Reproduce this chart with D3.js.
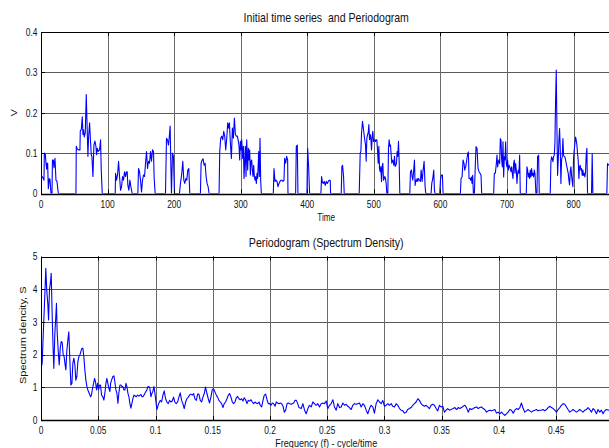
<!DOCTYPE html>
<html><head><meta charset="utf-8">
<script src="https://cdn.jsdelivr.net/npm/d3@7"></script>
<style>html,body{margin:0;padding:0;background:#fff}svg{display:block}text{font-family:"Liberation Sans",Arial,sans-serif;fill:#111;white-space:pre}</style>
</head><body>
<script>
// ---------- DATA ----------
const timeSteps = [0,2.5,4.5,5,6.5,7.5,8.5,9,10,11,12.5,13.5,15,16.5,17.2,18.5,19.5,21,22.5,24,26,
52.5,53,54.5,57,58.5,59,60.5,62,63,64,65,66.5,68,69,70.5,71.5,73,74.5,75.5,76.5,78,79.5,81,82.5,83.5,84.5,86,88,89.5,90.5,92,
111.5,112,113.5,115,116.5,118,119.5,121,122.5,124,125.5,127,128.5,129.5,130.5,132,133.5,135,137,
145.5,146.5,148,149.5,151,152.5,154,155.5,157,158.5,160,161.5,163,164.5,166,167.5,169,170,171.5,
187,188.5,190,191.5,192.5,194,195,196,197.5,199,200.5,
208,209.5,211.5,213,214.5,216,217.5,219,220.5,222,223.5,
239.5,240.5,242,243.5,245,246.5,248,249.5,251,252.5,
267.5,268.5,270,271.5,273,274.5,276,277.5,279,280.5,282,283,284.5,286,287.5,289,290.5,292,293.5,295,296.5,297.5,298.5,299.5,300.5,301.5,303,304,305,306,307,308,309,310.5,311.5,312.5,313.5,314.5,315.5,316.5,317.5,318.5,319.5,320.5,321.5,322.5,323.5,324.5,325.5,327,328,329,330,331,
349,350,351.5,353,354.5,356,357.5,359,360.5,362,363.5,365,366,367.5,369,370.5,371,
382.5,383.5,385,386,399.5,400.5,402,403.5,
420.5,421.5,422.5,424,425.5,427,428.5,430,431.5,433,434.5,435,
451,452,453,454.5,455.5,
478,479.5,480.5,481.5,483,484.5,486,487.5,488.5,489.5,490.5,491.5,492.5,493.5,494.5,495.5,496.5,497.5,498.5,499.5,500.5,501.5,502.5,503.5,504.5,505.5,506.5,507.5,508.5,509.5,510.5,511.5,512.5,513.5,514.5,515.5,516.5,517.5,518.5,519.5,
521,522,523,524,525,526,527,528,529,530,531,532,533,534,535,536,537,538,539,
554,555,556.5,557.5,558.5,559.5,561,562,563,564,565,566,567,568.5,570,571,572.5,574,575.5,577,578,
586,587,588.5,590,591,592,599,600,601.5,603,604,
630,631,632.5,634,635.5,636.5,638,639.5,641,642,643,644.5,645.5,646.5,647.5,648.5,649.5,
651,652.5,653.5,655,656.5,658,659.5,661,662,
680,681,682.5,684,685,686,687,688,689,690,691,692,693,694,695,696,697,698,699,700,701,702,703,704,705,706,707,708,709,710,711,712,713,714,715,716,717,718,719,720,
729,730,731,732,733,734,735,736,737,738,739,740,741,742,743.5,745,746,747.5,748.5,
765,766,767,768,769,770,771,772,773,774,775,776,777,778,779,780,781,782,783,784,785,786,787,788,789,790,791,792,793,794,795,796,797,798,799,800,801,802,803,804,805,806,807,808,809,810,811,812,813,814,815,816,817,818,819,820,821,
827,828,829,850,851,853,856];
const voltage = [.045,.04,.033,.1,.097,.075,.06,.075,.075,.012,.037,.035,0,0,.083,.083,.064,.087,.033,.03,0,
0,.117,.11,.108,.108,.155,.158,.19,.146,.158,.14,.15,.245,.183,.092,.14,.175,.125,.096,.092,.042,.12,.13,.117,.096,.112,.104,.108,.133,.058,0,
0,.05,.033,.046,.08,.042,.008,.017,.042,.033,.054,.042,.054,.054,.02,.008,.033,.017,0,
0,.062,.054,.033,.004,.033,.046,.042,.075,.104,.062,.08,.075,.104,.08,.108,.104,.037,0,
0,.137,.133,.12,.137,.167,.075,0,.1,.092,0,
0,.025,.05,.08,.033,.025,.037,.033,.058,.062,0,
0,.075,.083,.086,.07,.075,.042,.025,.017,0,
0,.104,.137,.142,.133,.154,.142,.108,.137,.175,.162,.175,.125,.087,.162,.137,.187,.146,.142,.142,.129,.117,.083,.129,.108,.133,.087,.117,.037,.08,.117,.042,.133,.058,.112,.083,.108,.046,.08,.083,.058,.042,.07,.042,.033,.042,.025,.05,.037,.104,.042,.137,.033,0,
0,.062,.03,.033,.03,.017,.025,.03,.033,.033,.03,.033,.087,.075,.092,.083,0,
0,.117,.12,0,0,.112,.067,0,
0,.042,.03,.025,.03,.02,.03,.025,.03,.033,.033,0,
0,.067,.07,.042,0,
0,.1,.104,.15,.179,.158,.137,.12,.08,.137,.146,.15,.171,.133,.146,.137,.108,.142,.154,.129,.133,.133,.129,.133,.133,.108,.075,.117,.062,.054,.067,.03,.067,.075,.033,.037,.042,.037,.025,0,
0,.112,.133,.117,.12,.096,.075,.083,.08,.07,.092,.067,.07,.075,.104,.092,.129,.083,0,
0,.054,.058,.042,.033,.05,.083,.02,.033,.03,.037,.03,.037,.033,.03,.058,.03,.058,.08,.017,0,
0,.025,.037,.058,.008,0,0,.033,.046,.046,0,
0,.037,.041,.083,.074,.058,.066,.083,.099,.103,.037,.037,.033,.041,.025,.045,0,
0,.074,.116,.112,.062,.054,.05,.045,0,
0,.05,.05,.074,.095,.066,.079,.083,.074,.136,.132,.083,.066,.128,.041,.091,.083,.128,.074,.066,.083,.058,.07,.066,.062,.054,.066,.05,.037,.074,.083,.05,.074,.058,.025,.05,.058,.05,.095,0,
0,.066,.058,.041,.05,.037,.058,.041,.062,.045,.05,.041,.058,.05,0,0,.091,.095,0,
0,.079,.091,.087,.079,.091,.095,.124,.231,.306,.165,.045,.083,.132,.161,.112,.025,.083,.091,.136,.095,.091,.091,.083,.074,.066,.058,.05,.033,.021,.054,.066,.045,.029,.017,.087,.107,.124,.14,.132,.12,.099,.083,.037,.066,.07,.058,.062,.045,.058,.045,.05,.041,.054,.095,.112,0,
0,.099,0,0,.074,.07,.07];

const freq = [0,0.001,0.002,0.0034,0.0042,0.005,0.006,0.0066,0.0074,0.0083,0.0089,0.0098,0.0106,0.0112,0.0121,0.013,0.0135,0.0141,0.015,0.0159,0.0168,0.0176,0.0185,0.0194,0.0202,0.0211,0.0217,0.0226,0.0235,0.0243,0.0252,0.0261,0.027,0.0278,0.0287,0.0296,0.0304,0.0313,0.0322,0.0331,0.034,0.0348,0.0357,0.0366,0.0374,0.0383,0.0392,0.0401,0.0409,0.0421,0.0433,0.0441,0.045,0.0459,0.0468,0.0476,0.0485,0.0494,0.0503,0.0511,0.052,0.0529,0.054,0.0549,0.0558,0.0567,0.0575,0.0584,0.0593,0.0602,0.0608,0.0616,0.0628,0.0637,0.0645,0.0654,0.0663,0.0672,0.068,0.0689,0.0698,0.0707,0.0715,0.0724,0.0733,0.0742,0.075,0.0759,0.0768,0.0776,0.0785,0.0794,0.0803,0.0812,0.082,0.0832,0.0843,0.0855,0.0864,0.0873,0.0881,0.089,0.0899,0.0908,0.0916,0.0925,0.0934,0.0942,0.0951,0.096,0.0969,0.0977,0.0986,0.0995,
0.1012,0.1027,0.1041,0.1053,0.1065,0.1076,0.1088,0.11,0.1111,0.1123,0.1134,0.1146,0.1158,0.1169,0.1181,0.1193,0.1204,0.1216,0.1228,0.1239,0.1251,0.1263,0.1274,0.1286,0.1298,0.1309,0.1321,0.1333,0.1344,0.1356,0.1368,0.1379,0.1391,0.1403,0.1414,0.1426,0.1437,0.1449,0.1461,0.1472,0.1484,0.1496,0.1507,0.1519,0.1531,0.1542,0.1554,0.1566,0.1577,0.1589,0.16,0.1612,0.1624,0.1636,0.1647,0.1659,0.1671,0.1682,0.1694,0.1706,0.1717,0.1729,0.174,0.1752,0.1764,0.1775,0.1787,0.1799,0.181,0.1822,0.1834,0.1845,0.1857,0.1869,0.188,0.1892,0.1904,0.1915,0.1927,0.1939,0.195,0.1962,0.1974,0.1985,0.1997,0.2009,0.202,0.2032,0.2044,0.2055,0.2067,0.2079,0.209,0.2102,0.2114,0.2125,0.2137,0.2149,0.216,0.2172,0.2183,0.2195,0.2207,0.2218,0.223,0.2242,0.2253,
0.2273,0.2287,0.2302,0.2316,0.2331,0.2345,0.236,0.2374,0.2389,0.2403,0.2418,0.2432,0.2447,0.2462,0.2476,0.2491,0.2505,0.252,0.2534,0.2549,0.2563,0.2578,0.2592,0.2607,0.2622,0.2636,0.2651,0.2665,0.268,0.2694,0.2709,0.2723,0.2738,0.2752,0.2767,0.2782,0.2796,0.2811,0.2825,0.284,0.2854,0.2869,0.2883,0.2898,0.2912,0.2927,0.2942,0.2956,0.2971,0.2985,0.3,0.3014,0.3029,0.3043,0.3058,0.3072,0.3087,0.3102,0.3116,0.3131,0.3145,0.316,0.3174,0.3189,0.3203,0.3218,0.3232,0.3247,0.3261,0.3276,0.3291,0.3305,0.332,0.3334,0.3349,0.3363,0.3378,0.3392,0.3407,0.3421,0.3436,0.3451,0.3465,0.348,0.3494,0.3509,0.3523,0.3538,0.3552,0.3567,0.3581,
0.36,0.3615,0.3629,0.3644,0.3658,0.3673,0.3687,0.3702,0.3716,0.3731,0.3745,0.376,0.3775,0.3789,0.3804,0.3818,0.3833,0.3847,0.3862,0.3876,0.3891,0.3905,0.392,0.3934,0.3949,0.3964,0.3978,0.3993,0.4007,0.4022,0.4036,0.4051,0.4065,0.408,0.4094,0.4109,0.4124,0.4138,0.4153,0.4167,0.4182,0.4196,0.4211,0.4225,0.424,0.4254,0.4269,0.4284,0.4298,0.4313,0.4327,0.4342,0.4356,0.4371,0.4385,0.44,0.4414,0.4429,0.4444,0.4458,0.4473,0.4487,0.4502,0.4516,0.4531,0.4545,0.456,0.4574,0.4589,0.4603,0.4618,0.4633,0.4647,0.4662,0.4676,0.4691,0.4705,0.472,0.4734,0.4749,0.4763,0.4778,0.4793,0.4807,0.4822,0.4836,0.4851,0.4865,0.488,0.4894,0.4909,0.4923,0.4938,0.496,0.5];
const density = [1.58,1.73,2.65,3.87,4.64,3.98,3.52,3.06,3.98,4.23,4.49,3.16,2.14,1.58,2.65,3.21,3.57,2.7,2.14,1.68,2.19,2.4,2.37,1.99,1.94,1.68,1.53,2.14,2.45,2.7,1.83,1.07,1.12,1.73,1.89,1.68,1.22,1.33,1.78,1.94,1.99,2.09,2.19,2.19,1.94,1.53,1.22,1.02,0.92,0.82,0.71,0.76,0.97,1.12,1.27,1.17,0.92,1.12,0.92,1.07,1.07,0.76,0.71,0.61,0.82,1.12,1.27,1.12,0.97,0.87,1.12,1.22,1.33,1.35,1.17,0.92,0.82,0.51,0.82,1.07,1.07,1.02,1.02,0.92,0.92,1.12,1.02,0.82,0.71,0.51,0.36,0.51,0.66,0.76,0.74,0.71,0.76,0.73,0.76,0.78,0.71,0.71,0.76,0.82,0.87,0.92,1.02,1.02,0.97,0.71,0.82,0.87,1.02,0.82,
0.32,0.5,0.6,0.55,0.76,0.89,0.65,0.55,0.5,0.6,0.55,0.58,0.7,0.55,0.5,0.55,0.7,0.83,0.6,0.5,0.35,0.55,0.65,0.7,0.76,0.79,0.76,0.81,0.65,0.6,0.79,0.79,0.6,0.55,0.7,0.81,1.01,0.81,0.65,0.52,0.7,0.93,0.96,0.86,0.76,0.7,0.6,0.55,0.5,0.38,0.5,0.55,0.65,0.76,0.81,0.7,0.55,0.5,0.55,0.68,0.72,0.65,0.62,0.65,0.58,0.68,0.62,0.5,0.6,0.58,0.62,0.55,0.5,0.55,0.52,0.5,0.55,0.45,0.4,0.6,0.76,0.79,0.62,0.5,0.5,0.45,0.52,0.5,0.42,0.55,0.52,0.5,0.52,0.5,0.42,0.24,0.3,0.5,0.52,0.5,0.48,0.5,0.52,0.6,0.6,0.5,0.38,
0.35,0.5,0.3,0.19,0.35,0.45,0.4,0.55,0.5,0.45,0.5,0.4,0.5,0.52,0.5,0.58,0.35,0.45,0.5,0.62,0.4,0.3,0.5,0.38,0.4,0.52,0.45,0.48,0.42,0.38,0.32,0.45,0.5,0.48,0.5,0.52,0.4,0.5,0.45,0.3,0.19,0.35,0.45,0.4,0.21,0.5,0.62,0.55,0.5,0.6,0.42,0.45,0.5,0.45,0.5,0.42,0.4,0.5,0.45,0.35,0.3,0.28,0.21,0.24,0.32,0.35,0.38,0.45,0.5,0.55,0.65,0.6,0.5,0.45,0.42,0.45,0.4,0.35,0.45,0.48,0.45,0.35,0.28,0.45,0.4,0.42,0.24,0.3,0.35,0.3,0.32,
0.35,0.38,0.32,0.38,0.35,0.38,0.42,0.45,0.38,0.24,0.35,0.32,0.35,0.38,0.4,0.35,0.38,0.4,0.35,0.32,0.24,0.28,0.3,0.28,0.3,0.32,0.21,0.24,0.19,0.24,0.19,0.14,0.19,0.24,0.32,0.3,0.21,0.3,0.35,0.32,0.38,0.52,0.35,0.24,0.28,0.32,0.28,0.24,0.28,0.3,0.32,0.28,0.3,0.3,0.32,0.28,0.32,0.38,0.42,0.38,0.35,0.3,0.24,0.32,0.38,0.45,0.5,0.48,0.4,0.32,0.24,0.28,0.32,0.28,0.24,0.28,0.32,0.28,0.24,0.3,0.32,0.38,0.32,0.24,0.35,0.3,0.19,0.32,0.24,0.3,0.19,0.28,0.32,0.3,0.3];

const timeTicks = [0,100,200,300,400,500,600,700,800];
const vTicks = [0,0.1,0.2,0.3,0.4];
const freqTicks = [0,0.05,0.1,0.15,0.2,0.25,0.3,0.35,0.4,0.45];
const freqTickLabels = ["0","0.05","0.1","0.15","0.2","0.25","0.3","0.35","0.4","0.45"];
const sTicks = [0,1,2,3,4,5];
const titles = ["Initial time series  and Periodogram","Periodogram (Spectrum Density)"];
const xLabels = ["Time","Frequency (f) - cycle/time"];
const yLabels = ["V","Spectrum dencity, S"];

// ---------- DRAW ----------
const W = 609, H = 448, SX = 0.8;
const svg = d3.select("body").append("svg").attr("width", W).attr("height", H);
svg.append("rect").attr("width", W).attr("height", H).attr("fill", "#fff");

const L = 41, R = 613.5;
const panels = [
  {top: 32, bottom: 193.5, xs: d3.scaleLinear().domain([0, 860]).range([L, R]),
   ys: d3.scaleLinear().domain([0, 0.4]).range([193.5, 32]),
   xt: timeTicks, xl: timeTicks.map(String), yt: vTicks, yl: vTicks.map(String),
   xd: timeSteps, yd: voltage, titleSize: 13.2, xlabSize: 10.2},
  {top: 256.5, bottom: 420, xs: d3.scaleLinear().domain([0, 0.5]).range([L, R]),
   ys: d3.scaleLinear().domain([0, 5]).range([420, 256.5]),
   xt: freqTicks, xl: freqTickLabels, yt: sTicks, yl: sTicks.map(String),
   xd: freq, yd: density, titleSize: 13.3, xlabSize: 11.3}
];

function text(g, x, y, s, size, anchor, rot) {
  g.append("text")
    .attr("transform", `translate(${x},${y}) scale(${SX},1)` + (rot ? " rotate(-90)" : ""))
    .attr("text-anchor", anchor).attr("font-size", size)
    .attr("xml:space", "preserve").text(s);
}

panels.forEach((p, i) => {
  const g = svg.append("g");
  const cx = (L + R) / 2;
  // grid
  g.selectAll(null).data(p.yt.slice(1)).enter().append("line")
    .attr("x1", L).attr("x2", R)
    .attr("y1", d => Math.round(p.ys(d)) + 0.5).attr("y2", d => Math.round(p.ys(d)) + 0.5)
    .attr("stroke", "#5a5a5a").attr("stroke-width", 1);
  g.selectAll(null).data(p.xt.slice(1)).enter().append("line")
    .attr("x1", d => Math.round(p.xs(d)) + 0.5).attr("x2", d => Math.round(p.xs(d)) + 0.5)
    .attr("y1", p.top).attr("y2", p.bottom)
    .attr("stroke", "#6a6a6a").attr("stroke-width", 1);
  // clip
  const cid = "clip" + i;
  svg.append("clipPath").attr("id", cid).append("rect")
    .attr("x", L).attr("y", p.top).attr("width", R - L).attr("height", p.bottom - p.top);
  const pts = p.xd.map((x, k) => [x, p.yd[k]]);
  g.append("path").datum(pts)
    .attr("clip-path", `url(#${cid})`)
    .attr("d", d3.line().x(d => p.xs(d[0])).y(d => p.ys(d[1])))
    .attr("fill", "none").attr("stroke", "#0000ff").attr("stroke-width", 1.1)
    .attr("stroke-linejoin", "round");
  // box
  g.append("rect").attr("x", L + 0.5).attr("y", Math.round(p.top) + 0.5)
    .attr("width", R - L).attr("height", Math.round(p.bottom) - Math.round(p.top))
    .attr("fill", "none").attr("stroke", "#000").attr("stroke-width", 1);
  g.append("line").attr("x1", L).attr("x2", R).attr("y1", Math.round(p.bottom) + 0.5).attr("y2", Math.round(p.bottom) + 0.5)
    .attr("stroke", "#000").attr("stroke-width", 1.5);
  // ticks
  p.xt.forEach(d => {
    const x = Math.round(p.xs(d)) + 0.5;
    g.append("line").attr("x1", x).attr("x2", x).attr("y1", p.bottom).attr("y2", p.bottom - 4).attr("stroke", "#000");
    g.append("line").attr("x1", x).attr("x2", x).attr("y1", p.top).attr("y2", p.top + 4).attr("stroke", "#000");
  });
  p.yt.forEach(d => {
    const y = Math.round(p.ys(d)) + 0.5;
    g.append("line").attr("x1", L).attr("x2", L + 4).attr("y1", y).attr("y2", y).attr("stroke", "#000");
  });
  // tick labels
  p.xt.forEach((d, k) => text(g, p.xs(d), p.bottom + 14, p.xl[k], 10.5, "middle"));
  p.yt.forEach((d, k) => text(g, 37.5, p.ys(d) + 3.8, p.yl[k], 10.5, "end"));
  // titles and labels
  text(g, cx - 1, p.top - 10, titles[i], p.titleSize, "middle");
  text(g, cx - 1, i === 0 ? 221 : 446.5, xLabels[i], p.xlabSize, "middle");
  text(g, i === 0 ? 17 : 25.5, (p.top + p.bottom) / 2 + (i === 0 ? 0 : -3), yLabels[i], i === 0 ? 10.5 : 11, "middle", true);
});
</script>
</body></html>
